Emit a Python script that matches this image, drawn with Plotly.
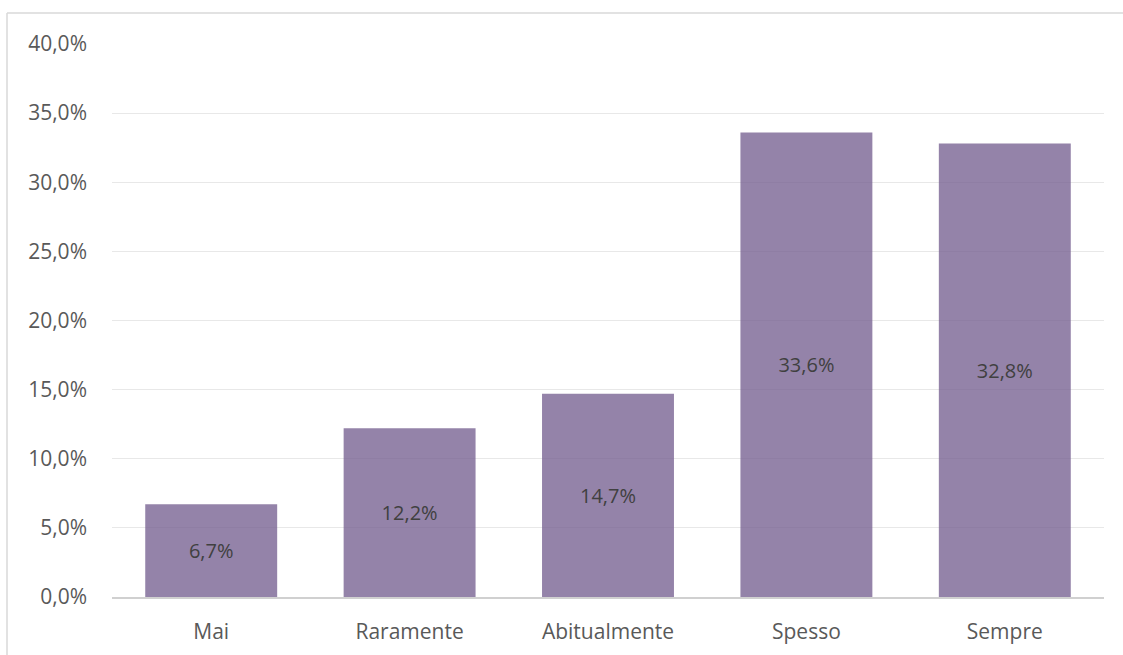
import plotly.graph_objects as go

categories = ["Mai", "Raramente", "Abitualmente", "Spesso", "Sempre"]
values = [6.7, 12.2, 14.7, 33.6, 32.8]
labels = [f"{v:.1f}%".replace(".", ",") for v in values]

W, H = 1123, 655
L, R, T, B = 112, 19, 44, 58
pw, ph = W - L - R, H - T - B
FONT = "Open Sans, Lato, sans-serif"

fig = go.Figure(go.Bar(
    x=categories, y=values, text=labels, textposition="inside",
    insidetextanchor="middle", textangle=0,
    textfont=dict(family=FONT, size=20, color="#404040"),
    marker=dict(color="rgba(118,96,145,0.78)", line=dict(width=0)),
    hoverinfo="skip",
))

fig.update_layout(
    width=W, height=H, margin=dict(l=L, r=R, t=T, b=B),
    paper_bgcolor="white", plot_bgcolor="white",
    separators=",.", bargap=0.335, showlegend=False,
    font=dict(family=FONT, color="#595959", size=21),
    yaxis=dict(range=[0, 40], dtick=5, tickformat=".1f", ticksuffix="%",
               showgrid=True, gridcolor="#e8e8e8", gridwidth=1.3,
               zeroline=False, showline=False, ticklabelstandoff=24,
               automargin=False,
               tickfont=dict(family=FONT, size=21, color="#595959")),
    xaxis=dict(showline=True, linecolor="#d0d0d0", linewidth=1.5,
               ticks="", ticklabelstandoff=15, automargin=False,
               tickfont=dict(family=FONT, size=21, color="#595959")),
    shapes=[
        dict(type="line", xref="paper", yref="paper",
             x0=(7 - L) / pw, x1=(W - L) / pw,
             y0=1 + (T - 13) / ph, y1=1 + (T - 13) / ph,
             line=dict(color="#d9d9d9", width=1.5)),
        dict(type="line", xref="paper", yref="paper",
             x0=(7 - L) / pw, x1=(7 - L) / pw,
             y0=1 + (T - 13) / ph, y1=-(H - T - ph) / ph - 0.01,
             line=dict(color="#d9d9d9", width=1.5)),
    ],
)

fig.write_html("out.html")
